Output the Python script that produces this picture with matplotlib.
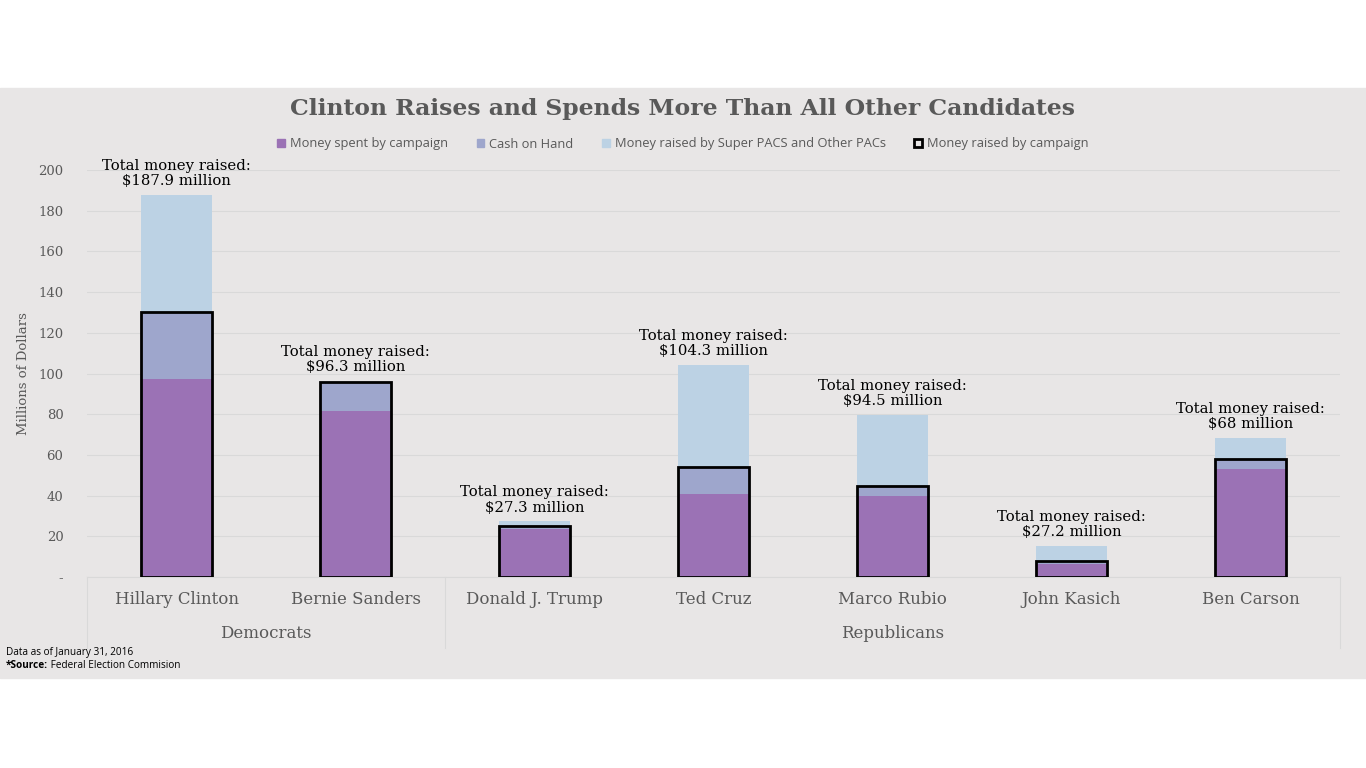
import numpy as np
import matplotlib.pyplot as plt
from matplotlib.patches import Rectangle, Patch
import matplotlib.transforms as mtransforms

candidates = ['Hillary Clinton', 'Bernie Sanders', 'Donald J. Trump', 'Ted Cruz',
              'Marco Rubio', 'John Kasich', 'Ben Carson']
parties = ['Democrats', 'Republicans']
party_sizes = [2, 5]

# bar tops, millions of dollars
total_with_pacs = [187.9, 95.8, 27.3, 104.3, 79.6, 15.2, 68.3]
campaign_raised = [130.0, 96.0, 25.2, 54.3, 44.6, 8.0, 58.0]
campaign_spent = [97.3, 81.7, 23.8, 40.8, 39.8, 6.5, 53.2]
total_labels = ['$187.9 million', '$96.3 million', '$27.3 million', '$104.3 million',
                '$94.5 million', '$27.2 million', '$68 million']
label_anchor = [187.9, 96.3, 27.3, 104.3, 79.6, 15.2, 68.3]

yticks = [0, 20, 40, 60, 80, 100, 120, 140, 160, 180, 200]
ytick_labels = ['-', '20', '40', '60', '80', '100', '120', '140', '160', '180', '200']

c_spent = '#9b72b5'
c_cash = '#9ea6cc'
c_pac = '#bcd2e4'
c_bg = '#e8e6e6'
c_text = '#595959'
serif = 'DejaVu Serif'
sans = 'Open Sans'

fig = plt.figure(figsize=(13.66, 7.68), dpi=100)
fig.patches.append(Rectangle((0, 0.117), 1, 0.768, transform=fig.transFigure,
                             color=c_bg, zorder=-10))

ax = fig.add_axes([0.0637, 0.2487, 0.9173, 0.5299])
ax.set_facecolor('none')
x = np.arange(len(candidates))
w = 0.4

ax.bar(x, total_with_pacs, w, color=c_pac, zorder=2)
ax.bar(x, campaign_raised, w, color=c_cash, zorder=3)
ax.bar(x, campaign_spent, w, color=c_spent, zorder=4)
ax.bar(x, campaign_raised, w, fill=False, edgecolor='black', linewidth=2, zorder=5)

for xi, top, lab in zip(x, label_anchor, total_labels):
    ax.annotate('Total money raised:\n' + lab, (xi, top), xytext=(0, 5),
                textcoords='offset points', ha='center', va='bottom',
                fontsize=10.7, family=serif, linespacing=1.1, annotation_clip=False)

ax.set_xlim(-0.5, len(candidates) - 0.5)
ax.set_ylim(0, 200)
ax.set_yticks(yticks)
ax.set_yticklabels(ytick_labels, family=serif, fontsize=9.5, color=c_text)
ax.tick_params(axis='y', length=0, pad=17)
ax.set_xticks([])
ax.grid(axis='y', color='#d9d9d9', linewidth=0.8, zorder=0)
ax.set_axisbelow(True)
for s in ['top', 'right', 'left']:
    ax.spines[s].set_visible(False)
ax.spines['bottom'].set_color('#d9d9d9')
ax.set_ylabel('Millions of Dollars', family=serif, fontsize=9.5, color=c_text, labelpad=6)

# category axis: candidate names, then party groups
trans = mtransforms.blended_transform_factory(ax.transData, ax.transAxes)
for xi, name in zip(x, candidates):
    ax.text(xi, -0.056, name, transform=trans, ha='center', va='center',
            family=serif, fontsize=12, color=c_text)
edges = np.concatenate([[0], np.cumsum(party_sizes)]) - 0.5
for e in edges:
    ax.plot([e, e], [0, -0.175], transform=trans, color='#d9d9d9', lw=0.8, clip_on=False)
for i, p in enumerate(parties):
    ax.text((edges[i] + edges[i + 1]) / 2, -0.139, p, transform=trans, ha='center',
            va='center', family=serif, fontsize=12, color=c_text)

fig.text(0.5, 0.858, 'Clinton Raises and Spends More Than All Other Candidates',
         ha='center', va='center', family=serif, fontweight='bold', fontsize=16.9,
         color=c_text)

handles = [Patch(color=c_spent, label='Money spent by campaign'),
           Patch(color=c_cash, label='Cash on Hand'),
           Patch(color=c_pac, label='Money raised by Super PACS and Other PACs'),
           Patch(facecolor='none', edgecolor='black', linewidth=2,
                 label='Money raised by campaign')]
fig.legend(handles=handles, loc='center', bbox_to_anchor=(0.5, 0.8125), ncol=4,
           frameon=False, handlelength=0.6, handleheight=0.6, handletextpad=0.4,
           columnspacing=2.2, prop={'family': sans, 'size': 9.3},
           labelcolor=c_text)

fig.text(0.0045, 0.151, 'Data as of January 31, 2016', family=sans, fontsize=7.2,
         va='center')
src = fig.text(0.0045, 0.133, '*Source:', family=sans, fontsize=7.2, fontweight='bold',
               va='center')
fig.canvas.draw()
bb = src.get_window_extent().transformed(fig.transFigure.inverted())
fig.text(bb.x1, 0.133, ' Federal Election Commision', family=sans, fontsize=7.2,
         va='center')

fig.savefig('out.png', dpi=100)
